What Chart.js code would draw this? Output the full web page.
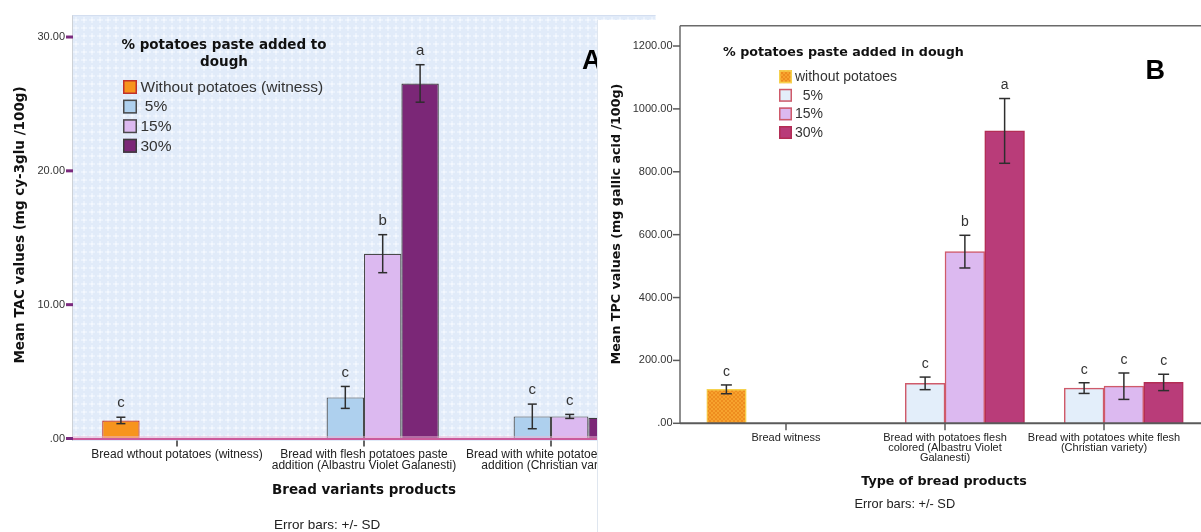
<!DOCTYPE html>
<html>
<head>
<meta charset="utf-8">
<title>TAC and TPC of bread products</title>
<script src="https://cdn.jsdelivr.net/npm/chart.js@4.4.1/dist/chart.umd.min.js"></script>
<style>
  html, body { margin: 0; padding: 0; background: #fff; }
  body { position: relative; width: 1201px; height: 532px; overflow: hidden; }
  .panel { position: absolute; }
  #panelA { left: 0; top: 0; }
  #panelB { left: 597px; top: 20px; background: #fff; }
  canvas { display: block; }
</style>
</head>
<body>
<div class="panel" id="panelA"><canvas id="chartA" width="700" height="532"></canvas></div>
<div class="panel" id="panelB"><canvas id="chartB" width="604" height="512"></canvas></div>
<script>
// Panel A - anthocyanins (TAC)
const categoriesA = [
  ["Bread wthout potatoes (witness)"],
  ["Bread with flesh potatoes paste", "addition (Albastru Violet Galanesti)"],
  ["Bread with white potatoes paste", "addition (Christian variety)"],
];
const seriesLabelsA = ["Without potatoes (witness)", " 5%", "15%", "30%"];
const witnessA = [1.35, null, null];
const p5A = [null, 3.07, 1.65];
const p15A = [null, 13.81, 1.65];
const p30A = [null, 26.53, 1.55];
const sdWitnessA = [0.24, null, null];
const sd5A = [null, 0.82, 0.92];
const sd15A = [null, 1.42, 0.15];
const sd30A = [null, 1.4, 0.12];
const lettersWitnessA = ["c", null, null];
const letters5A = [null, "c", "c"];
const letters15A = [null, "b", "c"];
const letters30A = [null, "a", "c"];
const yTicksA = [0, 10, 20, 30];

// Panel B - polyphenols (TPC)
const categoriesB = [
  ["Bread witness"],
  ["Bread with potatoes flesh", "colored (Albastru Violet", "Galanesti)"],
  ["Bread with potatoes white flesh", "(Christian variety)"],
];
const seriesLabelsB = ["without potatoes", "  5%", "15%", "30%"];
const witnessB = [108, null, null];
const p5B = [null, 127, 112];
const p15B = [null, 546, 118];
const p30B = [null, 930, 130];
const sdWitnessB = [14, null, null];
const sd5B = [null, 20, 17];
const sd15B = [null, 52, 42];
const sd30B = [null, 103, 26];
const lettersWitnessB = ["c", null, null];
const letters5B = [null, "c", "c"];
const letters15B = [null, "b", "c"];
const letters30B = [null, "a", "c"];
const yTicksB = [0, 200, 400, 600, 800, 1000, 1200];

const SANS = "'Liberation Sans', Arial, sans-serif";
const BOLD = "bold %spx 'DejaVu Sans', Verdana, sans-serif";
const boldFont = (size) => BOLD.replace("%s", size);

function fmtTick(v) {
  return v === 0 ? ".00" : v.toFixed(2);
}

function line(ctx, x1, y1, x2, y2) {
  ctx.beginPath();
  ctx.moveTo(x1, y1);
  ctx.lineTo(x2, y2);
  ctx.stroke();
}

function text(ctx, str, x, y, font, align, color, rotate) {
  ctx.save();
  ctx.font = font;
  ctx.fillStyle = color || "#111";
  ctx.textAlign = align || "left";
  ctx.textBaseline = "middle";
  ctx.translate(x, y);
  if (rotate) ctx.rotate(rotate);
  ctx.fillText(str, 0, 0);
  ctx.restore();
}

// light blue background with small soft white crosses (SPSS style) for panel A
function crossPattern(ctx) {
  const c = document.createElement("canvas");
  c.width = 8;
  c.height = 8;
  const g = c.getContext("2d");
  g.fillStyle = "#e1ebf9";
  g.fillRect(0, 0, 8, 8);
  g.fillStyle = "#ebf2fc";
  g.fillRect(1, 3, 6, 2);
  g.fillRect(3, 1, 2, 6);
  g.fillStyle = "#f4f8fe";
  g.fillRect(3, 3, 2, 2);
  return ctx.createPattern(c, "repeat");
}

// small orange checker for the witness bar of panel B
function checkerPattern(ctx) {
  const c = document.createElement("canvas");
  c.width = 4;
  c.height = 4;
  const g = c.getContext("2d");
  g.fillStyle = "#f7a32e";
  g.fillRect(0, 0, 4, 4);
  g.fillStyle = "#ee8d1f";
  g.fillRect(0, 0, 2, 2);
  g.fillRect(2, 2, 2, 2);
  return ctx.createPattern(c, "repeat");
}

// error bars (+/- SD) and the significance letters
function drawErrorBars(chart, capW, gap, letterFont) {
  const ctx = chart.ctx;
  const y = chart.scales.y;
  chart.data.datasets.forEach((ds, i) => {
    const meta = chart.getDatasetMeta(i);
    meta.data.forEach((bar, j) => {
      const v = ds.data[j];
      if (v == null) return;
      const top = y.getPixelForValue(v + ds.sd[j]);
      const bot = y.getPixelForValue(v - ds.sd[j]);
      ctx.save();
      ctx.strokeStyle = "#2e2e2e";
      ctx.lineWidth = 1.5;
      line(ctx, bar.x, top, bar.x, bot);
      line(ctx, bar.x - capW / 2, top, bar.x + capW / 2, top);
      line(ctx, bar.x - capW / 2, bot, bar.x + capW / 2, bot);
      ctx.restore();
      if (ds.letters[j]) {
        text(ctx, ds.letters[j], bar.x, top - gap, letterFont, "center", "#333");
      }
    });
  });
}

function drawLegend(chart, L) {
  const ctx = chart.ctx;
  L.title.forEach((t, k) => {
    text(ctx, t, L.titleX, L.titleY + k * L.titleStep, L.titleFont, L.titleAlign, "#111");
  });
  chart.data.datasets.forEach((ds, i) => {
    const cy = L.boxY + i * L.step;
    ctx.save();
    ctx.fillStyle = ds.backgroundColor;
    ctx.fillRect(L.boxX, cy - L.box / 2, L.box, L.box);
    ctx.strokeStyle = ds.borderColor;
    ctx.lineWidth = 1.5;
    ctx.strokeRect(L.boxX + 0.75, cy - L.box / 2 + 0.75, L.box - 1.5, L.box - 1.5);
    ctx.restore();
    text(ctx, ds.label, L.labelX, cy + 0.5, L.font, "left", "#333");
  });
}

// keep the tick padding from pushing the plot area around
function noScalePadding(s) {
  s.paddingTop = 0;
  s.paddingBottom = 0;
  s.paddingLeft = 0;
  s.paddingRight = 0;
}

// ---------- Panel A ----------
const plotA = { left: 72.5, right: 655.5, top: 15, bottom: 441 };

const panelAPlugin = {
  id: "panelA",
  beforeDraw(chart) {
    const ctx = chart.ctx;
    ctx.save();
    ctx.fillStyle = crossPattern(ctx);
    ctx.fillRect(plotA.left, plotA.top, plotA.right - plotA.left, plotA.bottom - plotA.top);
    ctx.strokeStyle = "#cdd1d6";
    ctx.lineWidth = 1;
    line(ctx, plotA.left, plotA.top, plotA.left, plotA.bottom);
    ctx.strokeStyle = "#d3def0";
    line(ctx, plotA.left, plotA.top + 0.5, plotA.right, plotA.top + 0.5);
    ctx.restore();
  },
  afterDatasetsDraw(chart) {
    const ctx = chart.ctx;
    const x = chart.scales.x;
    const y = chart.scales.y;
    const zero = y.getPixelForValue(0);

    ctx.save();
    ctx.strokeStyle = "#ecb6d4";
    ctx.lineWidth = 1;
    line(ctx, plotA.left, zero - 1.5, plotA.right, zero - 1.5);
    ctx.strokeStyle = "#cc5b9c";
    ctx.lineWidth = 2;
    line(ctx, plotA.left, zero + 0.5, plotA.right, zero + 0.5);

    ctx.fillStyle = "#7b2a7e";
    yTicksA.forEach((v) => ctx.fillRect(66, y.getPixelForValue(v) - 1.5, 7, 3));

    ctx.strokeStyle = "#333";
    ctx.lineWidth = 1.5;
    categoriesA.forEach((c, i) => {
      const px = x.getPixelForValue(i);
      line(ctx, px, zero + 2, px, zero + 8);
    });
    ctx.restore();

    drawErrorBars(chart, 9, 14, "15px " + SANS);

    drawLegend(chart, {
      title: ["% potatoes paste added to", "dough"],
      titleX: 224, titleY: 45, titleStep: 17, titleAlign: "center",
      titleFont: boldFont(13.5),
      boxX: 123, boxY: 87, step: 19.6, box: 14,
      labelX: 140.5, font: "15.5px " + SANS,
    });

    text(ctx, "A", 582, 62, "bold 27px " + SANS, "left", "#000");
    text(ctx, "Mean TAC values (mg cy-3glu /100g)", 20, 225, boldFont(13.5), "center", "#111", -Math.PI / 2);
    text(ctx, "Bread variants products", 364, 490, boldFont(13.5), "center", "#111");
    text(ctx, "Error bars: +/- SD", 274, 525, "13.5px " + SANS, "left", "#222");
  },
};

const ctxA = document.getElementById("chartA").getContext("2d");
new Chart(ctxA, {
  type: "bar",
  data: {
    labels: categoriesA,
    datasets: [
      { label: seriesLabelsA[0], data: witnessA, sd: sdWitnessA, letters: lettersWitnessA,
        backgroundColor: "#f7941d", borderColor: "#c0312b" },
      { label: seriesLabelsA[1], data: p5A, sd: sd5A, letters: letters5A,
        backgroundColor: "#aed0ee", borderColor: "#4a4a4a" },
      { label: seriesLabelsA[2], data: p15A, sd: sd15A, letters: letters15A,
        backgroundColor: "#dcb9f0", borderColor: "#4a4a4a" },
      { label: seriesLabelsA[3], data: p30A, sd: sd30A, letters: letters30A,
        backgroundColor: "#7b2777", borderColor: "#3c3c3c" },
    ],
  },
  options: {
    responsive: false,
    animation: false,
    events: [],
    layout: { padding: { top: 16, right: 55.5, bottom: 0, left: 0 } },
    datasets: {
      bar: { categoryPercentage: 0.8, barPercentage: 1.0, borderWidth: 1.2 },
    },
    plugins: {
      legend: { display: false },
      tooltip: { enabled: false },
    },
    scales: {
      x: {
        offset: true,
        grid: { display: false, drawTicks: false },
        border: { display: false },
        ticks: {
          font: { family: SANS, size: 12, lineHeight: 0.95 },
          color: "#222",
          padding: 10,
          maxRotation: 0,
          minRotation: 0,
          autoSkip: false,
        },
        afterFit: (s) => { s.height = 532 - 438.5; noScalePadding(s); },
      },
      y: {
        min: 0,
        max: 31.57,
        grid: { display: false, drawTicks: false },
        border: { display: false },
        afterBuildTicks: (s) => { s.ticks = yTicksA.map((v) => ({ value: v })); },
        afterFit: (s) => { s.width = 83.5; noScalePadding(s); },
        ticks: {
          font: { family: SANS, size: 11 },
          color: "#333",
          padding: 18.5,
          callback: (v) => fmtTick(v),
        },
      },
    },
  },
  plugins: [panelAPlugin],
});

// ---------- Panel B ----------
const boxB = { left: 83, top: 5.7, right: 604 };

const panelBPlugin = {
  id: "panelB",
  beforeDraw(chart) {
    const ctx = chart.ctx;
    ctx.save();
    ctx.strokeStyle = "#dfe6ef";
    ctx.lineWidth = 1;
    line(ctx, 0.5, 0, 0.5, 512);
    ctx.restore();
  },
  afterDatasetsDraw(chart) {
    const ctx = chart.ctx;
    const x = chart.scales.x;
    const y = chart.scales.y;
    const zero = y.getPixelForValue(0);

    ctx.save();
    ctx.strokeStyle = "#6a6a6a";
    ctx.lineWidth = 1.5;
    line(ctx, boxB.left, boxB.top, boxB.right, boxB.top);
    line(ctx, boxB.left, boxB.top, boxB.left, zero);
    ctx.strokeStyle = "#5a5a5a";
    ctx.lineWidth = 2;
    line(ctx, boxB.left, zero, boxB.right, zero);

    ctx.lineWidth = 1.5;
    yTicksB.forEach((v) => {
      const py = y.getPixelForValue(v);
      line(ctx, 76, py, boxB.left, py);
    });
    categoriesB.forEach((c, i) => {
      const px = x.getPixelForValue(i);
      line(ctx, px, zero, px, zero + 7);
    });
    ctx.restore();

    drawErrorBars(chart, 11, 13, "14px " + SANS);

    drawLegend(chart, {
      title: ["% potatoes paste added in dough"],
      titleX: 126, titleY: 32.7, titleStep: 0, titleAlign: "left",
      titleFont: boldFont(12.7),
      boxX: 182, boxY: 56.7, step: 18.6, box: 13,
      labelX: 198, font: "14px " + SANS,
    });

    text(ctx, "B", 548.5, 52, "bold 27px " + SANS, "left", "#000");
    text(ctx, "Mean TPC values (mg gallic acid /100g)", 20, 204, boldFont(12.7), "center", "#111", -Math.PI / 2);
    text(ctx, "Type of bread products", 347, 461.7, boldFont(12.7), "center", "#111");
    text(ctx, "Error bars: +/- SD", 257.5, 484.3, "12.8px " + SANS, "left", "#222");
  },
};

const ctxB = document.getElementById("chartB").getContext("2d");
new Chart(ctxB, {
  type: "bar",
  data: {
    labels: categoriesB,
    datasets: [
      { label: seriesLabelsB[0], data: witnessB, sd: sdWitnessB, letters: lettersWitnessB,
        backgroundColor: checkerPattern(ctxB), borderColor: "#f6d24e" },
      { label: seriesLabelsB[1], data: p5B, sd: sd5B, letters: letters5B,
        backgroundColor: "#e3eefa", borderColor: "#cf5a6a" },
      { label: seriesLabelsB[2], data: p15B, sd: sd15B, letters: letters15B,
        backgroundColor: "#dcb9f0", borderColor: "#cf5a6a" },
      { label: seriesLabelsB[3], data: p30B, sd: sd30B, letters: letters30B,
        backgroundColor: "#b93c79", borderColor: "#b32d55" },
    ],
  },
  options: {
    responsive: false,
    animation: false,
    events: [],
    layout: { padding: { top: 5.7, right: 17.5, bottom: 0, left: 0 } },
    datasets: {
      bar: { categoryPercentage: 1.0, barPercentage: 1.0, borderWidth: 1.5 },
    },
    plugins: {
      legend: { display: false },
      tooltip: { enabled: false },
    },
    scales: {
      x: {
        offset: true,
        grid: { display: false, drawTicks: false },
        border: { display: false },
        ticks: {
          font: { family: SANS, size: 11, lineHeight: 0.95 },
          color: "#222",
          padding: 9,
          maxRotation: 0,
          minRotation: 0,
          autoSkip: false,
        },
        afterFit: (s) => { s.height = 512 - 403.3; noScalePadding(s); },
      },
      y: {
        min: 0,
        max: 1264.6,
        grid: { display: false, drawTicks: false },
        border: { display: false },
        afterBuildTicks: (s) => { s.ticks = yTicksB.map((v) => ({ value: v })); },
        afterFit: (s) => { s.width = 109.5; noScalePadding(s); },
        ticks: {
          font: { family: SANS, size: 11 },
          color: "#333",
          padding: 34,
          callback: (v) => fmtTick(v),
        },
      },
    },
  },
  plugins: [panelBPlugin],
});
</script>
</body>
</html>
